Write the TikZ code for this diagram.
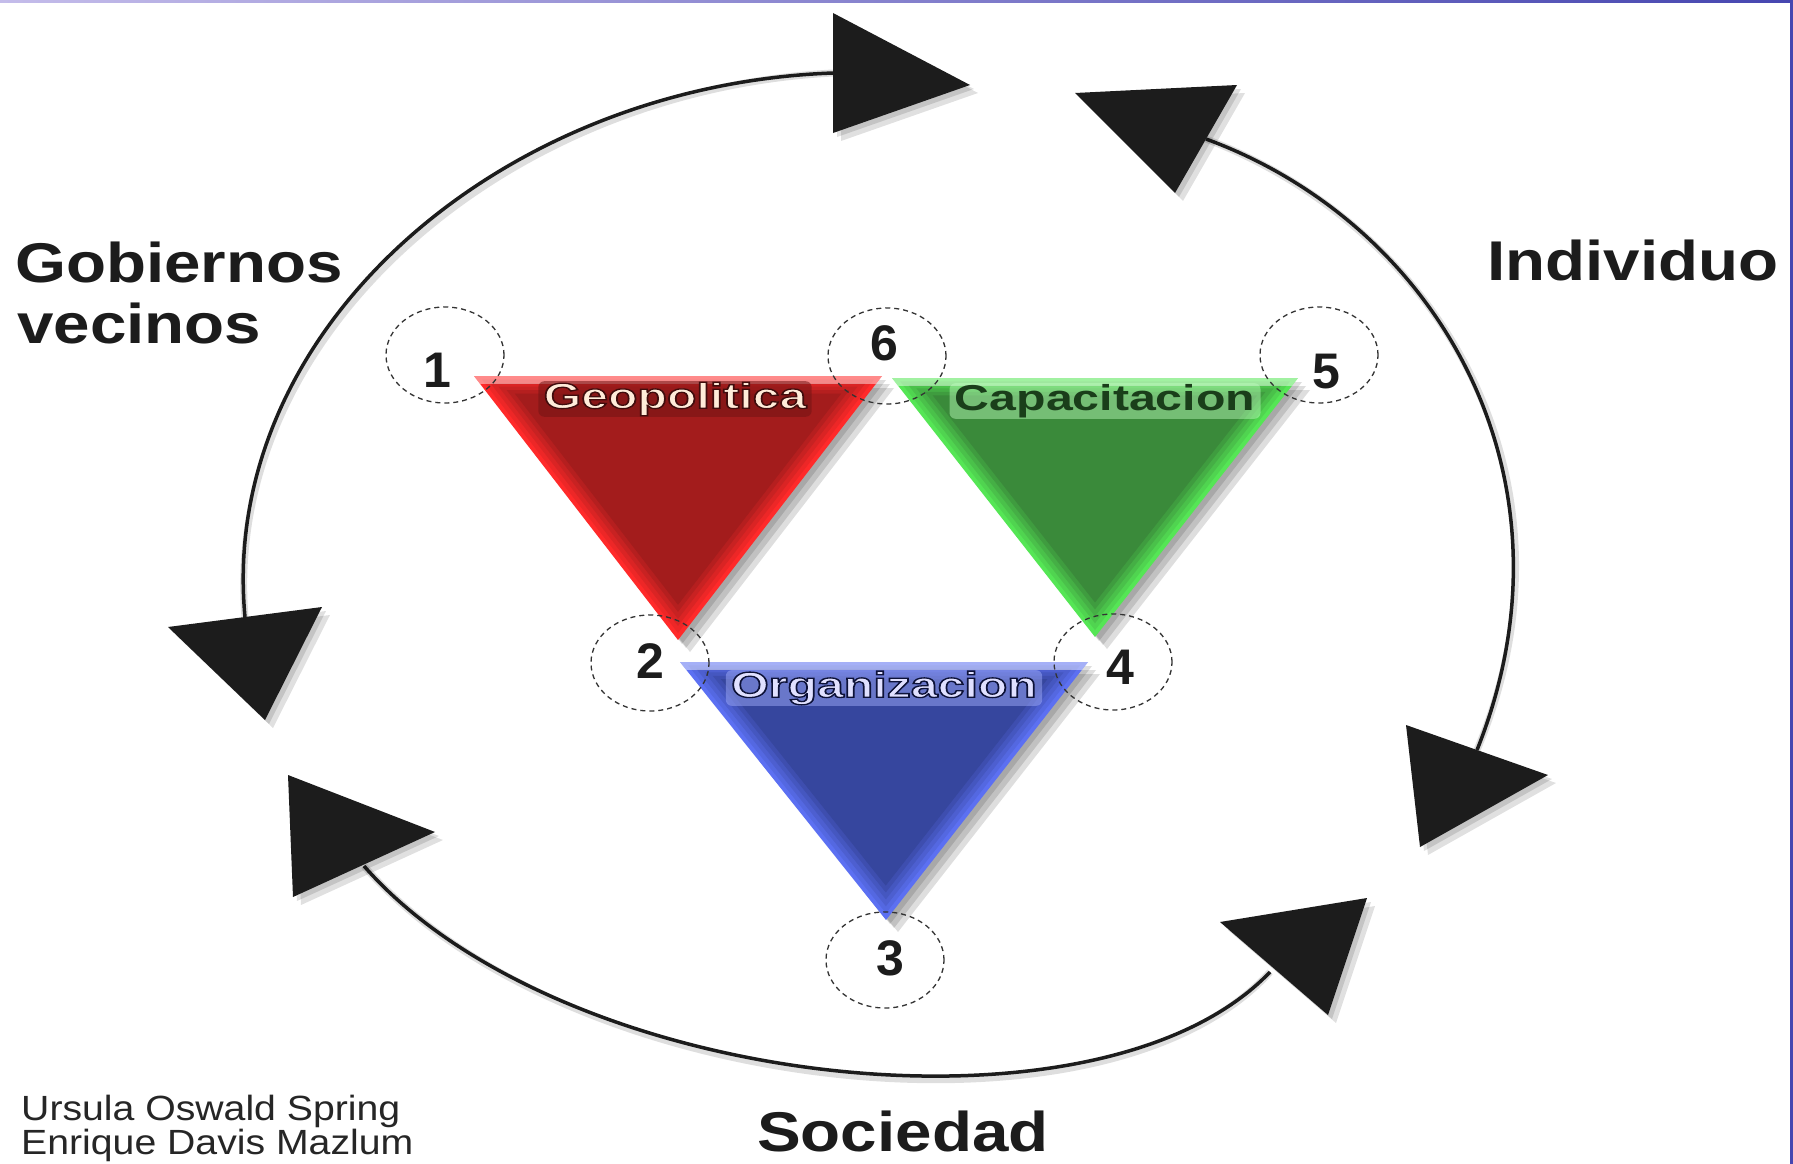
\documentclass[tikz,border=0pt]{standalone}
\usepackage{fontspec}
\setmainfont{Liberation Sans}
\usetikzlibrary{shapes.geometric}
\definecolor{inkc}{HTML}{1C1C1C}
\definecolor{dashc}{HTML}{333333}
\definecolor{authc}{HTML}{262626}
\definecolor{redB}{HTML}{FF2A2A}
\definecolor{redD}{HTML}{A31C1C}
\definecolor{grnB}{HTML}{55E655}
\definecolor{grnD}{HTML}{3A8A3A}
\definecolor{bluB}{HTML}{5C70F2}
\definecolor{bluD}{HTML}{36469E}
\definecolor{frameA}{HTML}{C4BCEA}
\definecolor{frameB}{HTML}{4646B0}
\newcommand\outlinetext[2]{\special{pdf:literal direct 2 Tr 1.3 w #1 RG}#2\special{pdf:literal direct 0 Tr}}
\newcommand\shadetri[8]{%
  \foreach \o in {4,8,12}{\fill[black,opacity=0.13,shift={(\o,\o)}] (#1,#2)--(#3,#4)--(#5,#6)--cycle;}
  \foreach \s/\m in {1.0/100,0.96/80,0.92/60,0.88/40,0.84/20,0.8/0}{%
    \fill[#7!\m!#8, scale around={\s:({(#1+#3+#5)/3},{(#2+#4+#6)/3})}] (#1,#2)--(#3,#4)--(#5,#6)--cycle;}
  \begin{scope}
    \clip (#1,#2)--(#3,#4)--(#5,#6)--cycle;
    \fill[white,opacity=0.45] (#1-5,#2-2) rectangle (#3+5,#2+8);
  \end{scope}}
\tikzset{
  arcline/.style={line width=3.5pt, draw=inkc},
  arcshadow/.style={line width=7pt, draw=black, opacity=0.13, shift={(4,5)}},
  headfill/.style={fill=inkc},
  numcirc/.style={ellipse, draw=dashc, dash pattern=on 5pt off 4pt, line width=1.3pt, minimum width=118pt, minimum height=96pt, inner sep=0pt},
  numtxt/.style={font=\bfseries\fontsize{50}{50}\selectfont, text=inkc, inner sep=0pt},
  bigtxt/.style={font=\bfseries\fontsize{56}{60}\selectfont, text=inkc, inner sep=0pt, anchor=base west, xscale=1.17},
  authtxt/.style={font=\fontsize{35}{38}\selectfont, text=authc, inner sep=0pt, anchor=base west, xscale=1.12},
  lab/.style={font=\bfseries\fontsize{36}{40}\selectfont, inner xsep=4pt, inner ysep=1pt, rounded corners=6pt, xscale=1.34, text opacity=1},
}
\begin{document}
\begin{tikzpicture}[x=1pt,y=-1pt]
\useasboundingbox (0,0) rectangle (1793,1164);
\fill[white] (0,0) rectangle (1793,1164);
% frame lines
\shade[left color=frameA, right color=frameB] (0,0) rectangle (1793,3);
\fill[frameB] (1790,0) rectangle (1793,1164);

% triangles
\shadetri{474}{376}{882}{376}{678}{640}{redB}{redD}
\shadetri{892}{378}{1298}{378}{1095}{637}{grnB}{grnD}
\shadetri{680}{662}{1088}{662}{886}{920}{bluB}{bluD}

% labels on triangles
\node[lab, fill=redD!70!black, fill opacity=0.55, text=white!85!orange] (geo) at (675,399) {\outlinetext{0.25 0.05 0.05}{Geopolitica}};
\node[lab, fill=green!25!white, fill opacity=0.45, text=grnD!45!black] (cap) at (1105,401) {Capacitacion};
\node[lab, fill=bluB!60!white, fill opacity=0.5, text=white!88!blue] (org) at (884,688) {\outlinetext{0.05 0.07 0.22}{Organizacion}};

% dashed circles and numbers
\node[numcirc] (c1) at (445,355) {};
\node[numcirc] (c6) at (887,356) {};
\node[numcirc] (c5) at (1319,355) {};
\node[numcirc] (c2) at (650,663) {};
\node[numcirc] (c4) at (1113,662) {};
\node[numcirc] (c3) at (885,960) {};
\node[numtxt] (n1) at (437,370) {1};
\node[numtxt] (n6) at (884,343) {6};
\node[numtxt] (n5) at (1326,372) {5};
\node[numtxt] (n2) at (650,661) {2};
\node[numtxt] (n4) at (1120,667) {4};
\node[numtxt] (n3) at (890,958) {3};

% arc end points
\coordinate (aL) at (245,617);
\coordinate (aT) at (833,73);
\coordinate (bT) at (1206,139);
\coordinate (bR) at (1477,750);
\coordinate (cL) at (364,866);
\coordinate (cR) at (1270,972);

% arc shadows
\draw[arcshadow] (aL) .. controls (218,330) and (500,85) .. (aT);
\draw[arcshadow] (bT) .. controls (1440,225) and (1585,480) .. (bR);
\draw[arcshadow] (cL) .. controls (560,1090) and (1100,1150) .. (cR);
% arcs
\draw[arcline] (aL) .. controls (218,330) and (500,85) .. (aT);
\draw[arcline] (bT) .. controls (1440,225) and (1585,480) .. (bR);
\draw[arcline] (cL) .. controls (560,1090) and (1100,1150) .. (cR);

% arrowheads
\foreach \o in {4,8}{
  \fill[black,opacity=0.12,shift={(\o,\o)}] (833,13)--(970,85)--(833,133)--cycle;
  \fill[black,opacity=0.12,shift={(\o,\o)}] (168,627)--(322,607)--(265,720)--cycle;
  \fill[black,opacity=0.12,shift={(\o,\o)}] (1075,93)--(1237,85)--(1175,193)--cycle;
  \fill[black,opacity=0.12,shift={(\o,\o)}] (1406,725)--(1548,775)--(1420,847)--cycle;
  \fill[black,opacity=0.12,shift={(\o,\o)}] (288,775)--(435,832)--(293,897)--cycle;
  \fill[black,opacity=0.12,shift={(\o,\o)}] (1220,922)--(1367,898)--(1328,1015)--cycle;
}
\fill[headfill] (833,13)--(970,85)--(833,133)--cycle;
\fill[headfill] (168,627)--(322,607)--(265,720)--cycle;
\fill[headfill] (1075,93)--(1237,85)--(1175,193)--cycle;
\fill[headfill] (1406,725)--(1548,775)--(1420,847)--cycle;
\fill[headfill] (288,775)--(435,832)--(293,897)--cycle;
\fill[headfill] (1220,922)--(1367,898)--(1328,1015)--cycle;

% outer labels
\node[bigtxt] (gob) at (15,282) {Gobiernos};
\node[bigtxt] (vec) at (17,343) {vecinos};
\node[bigtxt] (ind) at (1487,280) {Individuo};
\node[bigtxt] (soc) at (757,1151) {Sociedad};
\node[authtxt] (au1) at (21,1120) {Ursula Oswald Spring};
\node[authtxt] (au2) at (21,1154) {Enrique Davis Mazlum};
\end{tikzpicture}
\end{document}
